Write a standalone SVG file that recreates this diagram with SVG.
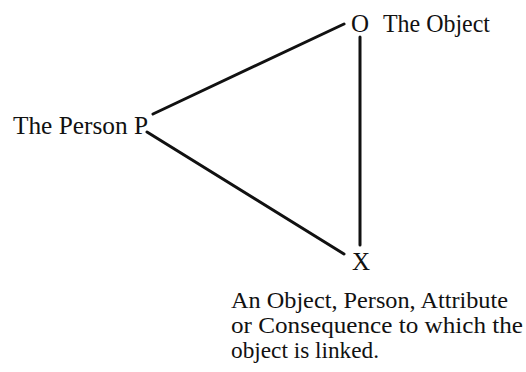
<svg xmlns="http://www.w3.org/2000/svg" width="526" height="372" viewBox="0 0 526 372">
  <style>
    .t { font-family: "Liberation Serif", "DejaVu Serif", serif; font-size: 25px; fill: #111; }
    .s { font-size: 24px; }
    .c { stroke: #111; stroke-width: 3; stroke-linecap: round; fill: none; }
  </style>
  <rect width="526" height="372" fill="#fff"/>
  <g id="connectors">
    <line class="c" x1="153" y1="114" x2="344" y2="24"/>
    <line class="c" x1="147" y1="132" x2="344" y2="254"/>
    <line class="c" x1="360" y1="37" x2="360" y2="245"/>
  </g>
  <g id="node-P">
    <text class="t" x="13" y="134" textLength="135" lengthAdjust="spacingAndGlyphs">The Person P</text>
  </g>
  <g id="node-O">
    <text class="t" x="351" y="32">O</text>
    <text class="t" x="383" y="32" textLength="107" lengthAdjust="spacingAndGlyphs">The Object</text>
  </g>
  <g id="node-X">
    <text class="t" x="352" y="270">X</text>
    <text class="t s" x="231" y="308" textLength="277" lengthAdjust="spacingAndGlyphs">An Object, Person, Attribute</text>
    <text class="t s" x="231" y="333" textLength="292" lengthAdjust="spacingAndGlyphs">or Consequence to which the</text>
    <text class="t s" x="231" y="358" textLength="148" lengthAdjust="spacingAndGlyphs">object is linked.</text>
  </g>
</svg>
